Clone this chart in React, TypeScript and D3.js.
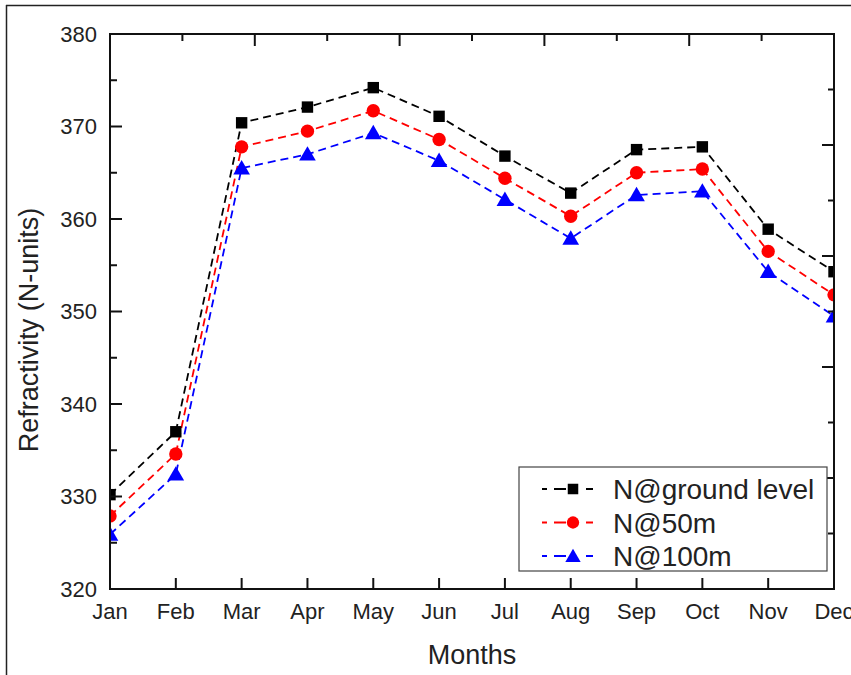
import React, { useEffect, useRef } from "react";
import * as d3 from "d3";

const months = ["Jan", "Feb", "Mar", "Apr", "May", "Jun", "Jul", "Aug", "Sep", "Oct", "Nov", "Dec"];
const groundLevel = [330.2, 337.0, 370.4, 372.1, 374.2, 371.1, 366.8, 362.8, 367.5, 367.8, 358.9, 354.3];
const at50m = [327.9, 334.6, 367.8, 369.5, 371.7, 368.6, 364.4, 360.3, 365.0, 365.4, 356.5, 351.8];
const at100m = [325.9, 332.4, 365.5, 367.0, 369.3, 366.3, 362.1, 357.9, 362.6, 363.0, 354.3, 349.5];
const seriesNames = ["N@ground level", "N@50m", "N@100m"];
const yTicks = [320, 330, 340, 350, 360, 370, 380];

const App = () => {
  const svgRef = useRef<SVGSVGElement>(null);

  useEffect(() => {
    const svg = d3.select(svgRef.current);
    svg.selectAll("*").remove();

    const left = 110;
    const right = 834;
    const top = 34;
    const bottom = 589;
    const font = "'Liberation Sans', Arial, sans-serif";

    const x = d3.scalePoint().domain(months).range([left, right]);
    const y = d3.scaleLinear().domain([320, 380]).range([bottom, top]);
    // top / right axes in Origin use 10 equal intervals
    const xTop = d3.scaleLinear().domain([0, 10]).range([left, right]);
    const yRight = d3.scaleLinear().domain([0, 10]).range([top, bottom]);

    // outer frame (only top and left edges visible)
    svg.append("line").attr("x1", 6).attr("x2", 851).attr("y1", 5.5).attr("y2", 5.5)
      .attr("stroke", "#222").attr("stroke-width", 1.5);
    svg.append("line").attr("x1", 6.5).attr("x2", 6.5).attr("y1", 5).attr("y2", 675)
      .attr("stroke", "#222").attr("stroke-width", 1.5);

    svg.append("clipPath").attr("id", "plot-clip")
      .append("rect").attr("x", left).attr("y", top)
      .attr("width", right - left).attr("height", bottom - top);

    const series = [
      { name: seriesNames[0], values: groundLevel, color: "#000000", shape: d3.symbolSquare, size: 130 },
      { name: seriesNames[1], values: at50m, color: "#ff0000", shape: d3.symbolCircle, size: 140 },
      { name: seriesNames[2], values: at100m, color: "#0000ff", shape: d3.symbolTriangle, size: 120 },
    ];

    const line = d3.line<number>()
      .x((_, i) => x(months[i]) as number)
      .y((d) => y(d));

    const plot = svg.append("g").attr("clip-path", "url(#plot-clip)");

    series.forEach((s) => {
      plot.append("path")
        .datum(s.values)
        .attr("d", line)
        .attr("fill", "none")
        .attr("stroke", s.color)
        .attr("stroke-width", 1.8)
        .attr("stroke-dasharray", "8,5");
    });

    series.forEach((s) => {
      plot.selectAll(null)
        .data(s.values)
        .join("path")
        .attr("transform", (d, i) => `translate(${x(months[i])},${y(d) + (s.shape === d3.symbolTriangle ? 1.5 : 0)})`)
        .attr("d", d3.symbol().type(s.shape).size(s.size)())
        .attr("fill", s.color);
    });

    // frame of the plot area
    svg.append("rect")
      .attr("x", left).attr("y", top)
      .attr("width", right - left).attr("height", bottom - top)
      .attr("fill", "none").attr("stroke", "#111").attr("stroke-width", 2);

    // left axis ticks (inward), majors every 10, minors every 5
    const ticks = svg.append("g").attr("stroke", "#111").attr("stroke-width", 2);
    d3.range(320, 381, 5).forEach((v) => {
      const major = v % 10 === 0;
      ticks.append("line")
        .attr("x1", left).attr("x2", left + (major ? 12 : 7))
        .attr("y1", y(v)).attr("y2", y(v));
    });

    // bottom ticks at every month
    months.forEach((m) => {
      ticks.append("line")
        .attr("x1", x(m)).attr("x2", x(m))
        .attr("y1", bottom).attr("y2", bottom - 11);
    });

    // top and right ticks
    d3.range(1, 10).forEach((i) => {
      const major = i % 2 === 0;
      ticks.append("line")
        .attr("x1", xTop(i)).attr("x2", xTop(i))
        .attr("y1", top).attr("y2", top + (major ? 12 : 7));
      ticks.append("line")
        .attr("x1", right).attr("x2", right - (major ? 12 : 6))
        .attr("y1", yRight(i)).attr("y2", yRight(i));
    });

    // tick labels
    svg.append("g")
      .selectAll("text")
      .data(yTicks)
      .join("text")
      .attr("x", 97)
      .attr("y", (d) => y(d))
      .attr("dy", "0.36em")
      .attr("text-anchor", "end")
      .style("font-family", font)
      .style("font-size", "22px")
      .attr("fill", "#222")
      .text((d) => d);

    svg.append("g")
      .selectAll("text")
      .data(months)
      .join("text")
      .attr("x", (d) => x(d) as number)
      .attr("y", 619)
      .attr("text-anchor", "middle")
      .style("font-family", font)
      .style("font-size", "22px")
      .attr("fill", "#222")
      .text((d) => d);

    // axis titles
    svg.append("text")
      .attr("transform", "translate(38,330) rotate(-90)")
      .attr("text-anchor", "middle")
      .style("font-family", font)
      .style("font-size", "27px")
      .attr("fill", "#222")
      .text("Refractivity (N-units)");

    svg.append("text")
      .attr("x", 472)
      .attr("y", 664)
      .attr("text-anchor", "middle")
      .style("font-family", font)
      .style("font-size", "27px")
      .attr("fill", "#222")
      .text("Months");

    // legend
    const legend = svg.append("g");
    legend.append("rect")
      .attr("x", 519).attr("y", 467)
      .attr("width", 308).attr("height", 104)
      .attr("fill", "white").attr("stroke", "#444").attr("stroke-width", 1.2);

    series.forEach((s, i) => {
      const cy = 489 + i * 33.5;
      legend.append("line")
        .attr("x1", 542).attr("x2", 593)
        .attr("y1", cy).attr("y2", cy)
        .attr("stroke", s.color).attr("stroke-width", 1.8)
        .attr("stroke-dasharray", "5,7,12,20,12");
      legend.append("path")
        .attr("transform", `translate(573,${cy + (s.shape === d3.symbolTriangle ? 1.5 : 0)})`)
        .attr("d", d3.symbol().type(s.shape).size(s.size * 0.85)())
        .attr("fill", s.color);
      legend.append("text")
        .attr("x", 613)
        .attr("y", cy)
        .attr("dy", "0.36em")
        .style("font-family", font)
        .style("font-size", "28px")
        .attr("fill", "#222")
        .text(s.name);
    });
  }, []);

  return (
    <svg
      ref={svgRef}
      width={851}
      height={675}
      style={{ position: "absolute", left: 0, top: 0, background: "white" }}
    ></svg>
  );
};

export default App;
